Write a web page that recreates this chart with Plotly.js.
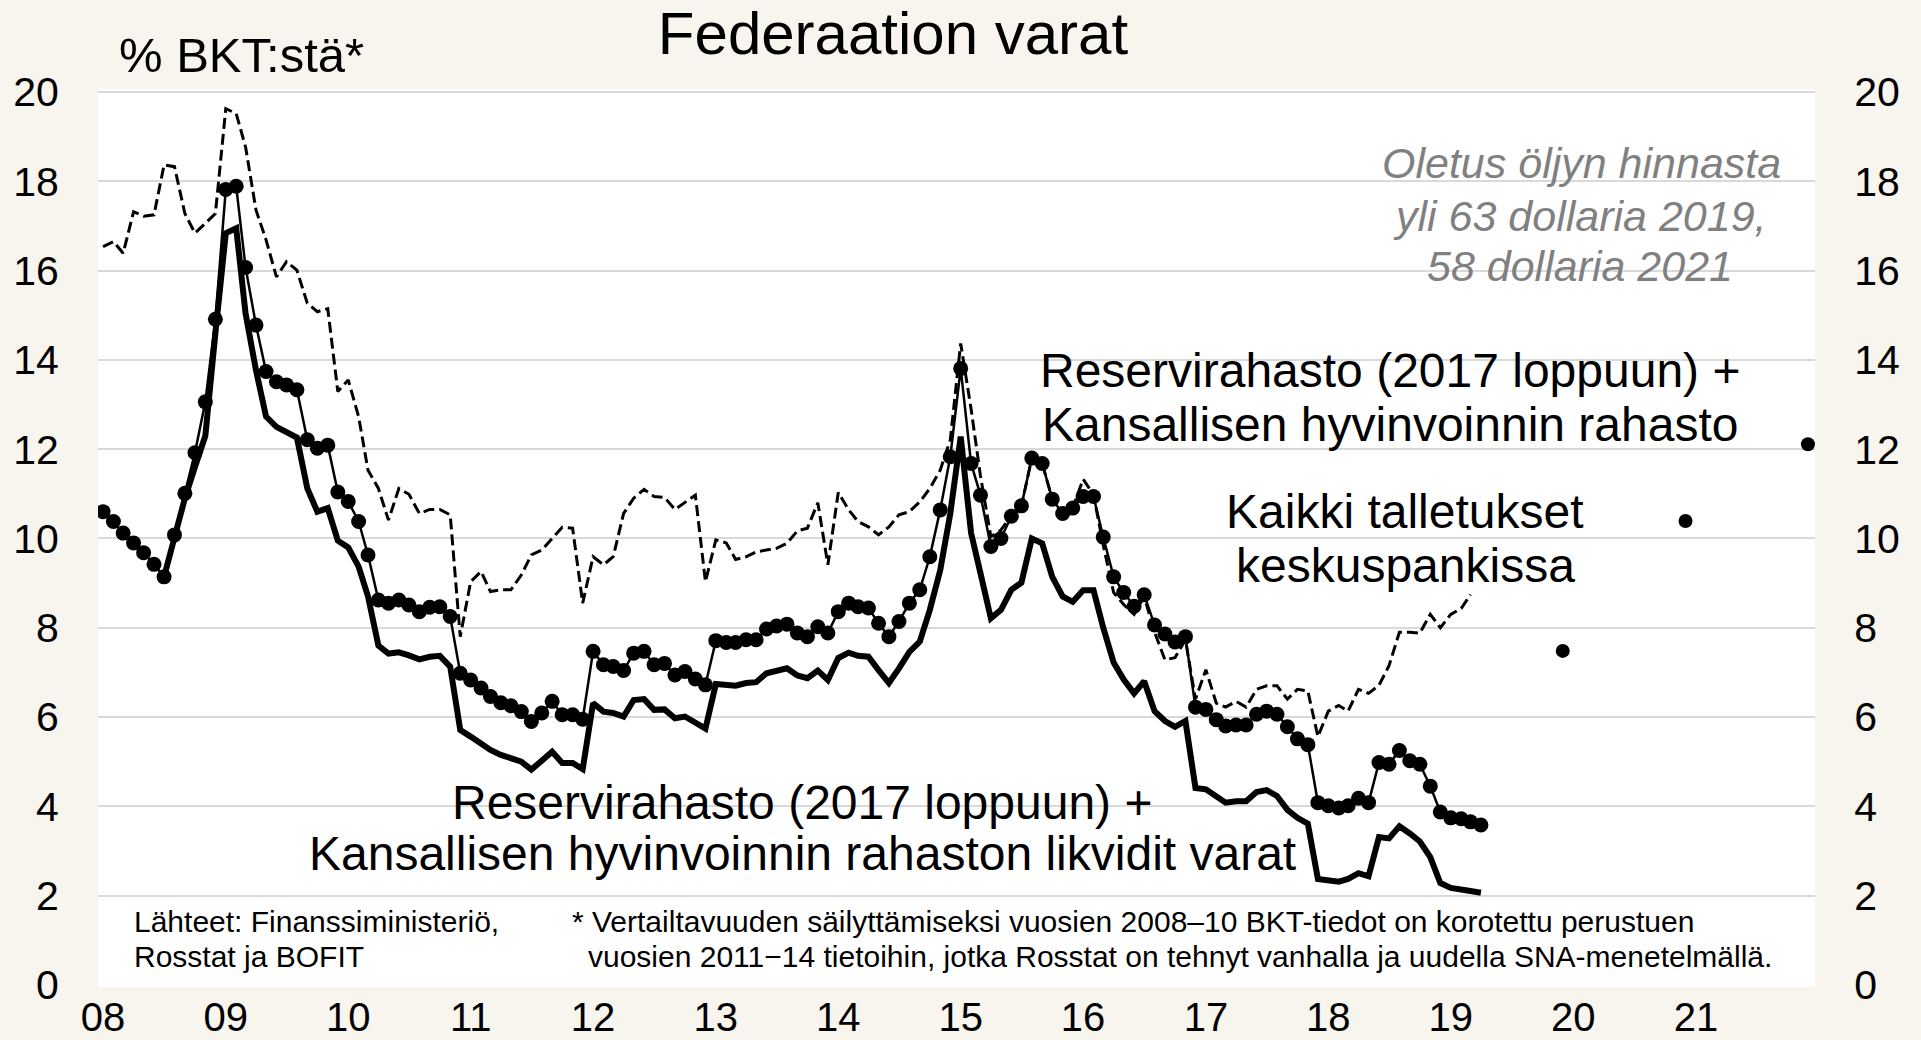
<!DOCTYPE html>
<html>
<head>
<meta charset="utf-8">
<script src="https://cdn.plot.ly/plotly-3.0.1.min.js"></script>
<style>
html,body{margin:0;padding:0;background:#f8f4ee;}
#chart{width:1921px;height:1040px;}
</style>
</head>
<body>
<div id="chart"></div>
<script>
// ---- DATA (monthly, starting January 2008) ----
const startYear = 2008;

// Kaikki talletukset keskuspankissa (dashed), Jan 2008 .. Mar 2019
const depositsAll = [
 16.54,16.65,16.39,17.32,17.22,17.25,18.37,18.33,17.28,16.84,17.06,17.28,
 19.63,19.52,18.77,17.36,16.69,15.86,16.20,16.01,15.27,15.08,15.15,13.29,
 13.55,12.73,11.53,11.12,10.41,11.12,10.99,10.56,10.65,10.65,10.53,7.80,
 9.03,9.26,8.81,8.85,8.85,9.18,9.63,9.74,10.00,10.25,10.23,8.55,
 9.59,9.41,9.59,10.56,10.90,11.10,10.94,10.92,10.65,10.80,10.97,9.03,
 9.97,9.90,9.53,9.59,9.70,9.74,9.78,9.89,10.17,10.23,10.80,9.41,
 11.03,10.64,10.38,10.26,10.08,10.26,10.53,10.60,10.82,11.12,11.53,12.21,
 14.37,12.90,11.40,10.04,10.19,10.50,10.73,11.80,11.68,10.88,10.56,10.68,
 11.33,10.98,9.85,8.79,8.52,8.30,8.70,7.90,7.28,7.33,7.73,6.40,
 7.06,6.31,6.22,6.35,6.22,6.62,6.70,6.70,6.40,6.62,6.58,5.56,
 6.13,6.26,6.13,6.62,6.53,6.71,7.15,7.90,7.90,7.88,8.30,8.00,
 8.30,8.43,8.74
];

// Reservirahasto + Kansallisen hyvinvoinnin rahasto (dots), Jan 2008 .. Apr 2019
const fundsTotal = [
 10.60,10.38,10.12,9.90,9.68,9.42,9.14,10.08,11.01,11.92,13.06,14.91,
 17.82,17.89,16.07,14.78,13.74,13.51,13.44,13.33,12.21,12.02,12.09,11.04,
 10.83,10.38,9.63,8.62,8.55,8.62,8.51,8.36,8.46,8.47,8.25,6.98,
 6.83,6.65,6.46,6.32,6.25,6.12,5.90,6.09,6.35,6.05,6.05,5.95,
 7.47,7.17,7.13,7.04,7.43,7.47,7.17,7.20,6.94,7.02,6.85,6.72,
 7.71,7.67,7.67,7.73,7.73,7.97,8.04,8.08,7.88,7.80,8.02,7.88,
 8.36,8.55,8.47,8.44,8.10,7.80,8.14,8.55,8.85,9.59,10.64,11.83,
 13.81,11.68,10.97,9.82,10.00,10.50,10.73,11.80,11.68,10.88,10.56,10.68,
 10.94,10.94,10.03,9.14,8.79,8.48,8.74,8.06,7.86,7.68,7.80,6.22,
 6.17,5.94,5.80,5.82,5.82,6.06,6.13,6.06,5.78,5.51,5.38,4.08,
 4.01,3.96,4.01,4.18,4.08,4.98,4.94,5.25,5.02,4.94,4.45,3.87,
 3.74,3.72,3.65,3.58
];

// Likvidit varat (thick line), Jan 2008 .. Apr 2019 (null before Jul 2008)
const fundsLiquid = [
 null,null,null,null,null,null,9.14,10.08,10.90,11.60,12.30,14.60,
 16.84,16.95,15.04,13.77,12.73,12.50,12.39,12.26,11.12,10.60,10.68,9.95,
 9.80,9.37,8.70,7.60,7.42,7.45,7.38,7.29,7.35,7.37,7.13,5.71,
 5.56,5.41,5.26,5.15,5.07,5.00,4.82,5.00,5.22,4.97,4.97,4.83,
 6.31,6.12,6.09,6.01,6.38,6.40,6.16,6.17,5.97,6.01,5.86,5.74,
 6.74,6.72,6.70,6.76,6.78,6.98,7.03,7.09,6.93,6.87,7.04,6.83,
 7.32,7.44,7.37,7.35,7.05,6.76,7.09,7.46,7.69,8.40,9.29,10.56,
 12.28,10.12,9.22,8.21,8.40,8.85,9.01,10.00,9.89,9.14,8.70,8.58,
 8.84,8.84,8.00,7.22,6.84,6.53,6.80,6.13,5.91,5.78,5.91,4.41,
 4.38,4.23,4.08,4.11,4.11,4.32,4.36,4.23,3.92,3.74,3.61,2.37,
 2.34,2.31,2.37,2.50,2.43,3.31,3.28,3.55,3.39,3.21,2.86,2.28,
 2.17,2.15,2.10,2.06
];

// Ennuste (year-end), forecast dots
const forecastDates = ['2019-12-01','2020-12-01','2021-12-01'];
const forecastValues = [7.48, 10.39, 12.11];

// Axis ticks
const yearTicks = ['2008','2009','2010','2011','2012','2013','2014','2015','2016','2017','2018','2019','2020','2021'];
const yearLabels = ['08','09','10','11','12','13','14','15','16','17','18','19','20','21'];
const yTicks = [0,2,4,6,8,10,12,14,16,18,20];

// ---- helpers ----
function monthDates(n){
  const out=[];
  for(let i=0;i<n;i++){
    const y=startYear+Math.floor(i/12), m=(i%12)+1;
    out.push(y+'-'+(m<10?'0':'')+m+'-01');
  }
  return out;
}

const FONT='Liberation Sans, Arial, sans-serif';

const traces=[
 {x:monthDates(depositsAll.length), y:depositsAll, type:'scatter', mode:'lines',
  line:{color:'#000', width:3, dash:'11px,5px'}, hoverinfo:'skip'},
 {x:monthDates(fundsLiquid.length), y:fundsLiquid, type:'scatter', mode:'lines',
  line:{color:'#000', width:6}, connectgaps:false, hoverinfo:'skip'},
 {x:monthDates(fundsTotal.length), y:fundsTotal, type:'scatter', mode:'lines+markers',
  line:{color:'#000', width:2.5}, marker:{color:'#000', size:15}, hoverinfo:'skip'},
 {x:forecastDates, y:forecastValues, type:'scatter', mode:'markers', yaxis:'y2',
  marker:{color:'#000', size:14}, cliponaxis:false, hoverinfo:'skip'}
];

// plot-area pixel geometry helpers for annotation placement
const L=98, R=1815, T=89, B=987;
const px=(x)=>(x-L)/(R-L);
const py=(y)=>(B-y)/(B-T);

function ann(text,x,y,size,opts){
  return Object.assign({text:text, xref:'paper', yref:'paper', x:px(x), y:py(y),
    xanchor:'center', yanchor:'middle', showarrow:false,
    font:{family:FONT, size:size, color:'#000'}}, opts||{});
}

const grayItalic={font:{family:FONT, size:43, color:'#808080', style:'italic'}};

const annotations=[
 ann('% BKT:stä*',241,55,49),
 ann('Reservirahasto (2017 loppuun) +',1390,370,48),
 ann('Kansallisen hyvinvoinnin rahasto',1390,424,48),
 ann('Kaikki talletukset',1405,512,48),
 ann('keskuspankissa',1405,565,48),
 ann('Reservirahasto (2017 loppuun) +',802,802,48),
 ann('Kansallisen hyvinvoinnin rahaston likvidit varat',802,853,48),
 ann('Oletus öljyn hinnasta',1581,163,43,grayItalic),
 ann('yli 63 dollaria 2019,',1580,216,43,grayItalic),
 ann('58 dollaria 2021',1580,266,43,grayItalic),
 ann('Lähteet: Finanssiministeriö,',132,921,30,{xanchor:'left'}),
 ann('Rosstat ja BOFIT',132,956,30,{xanchor:'left'}),
 ann('* Vertailtavuuden säilyttämiseksi vuosien 2008–10 BKT-tiedot on korotettu perustuen',570,921,30,{xanchor:'left'}),
 ann('vuosien 2011−14 tietoihin, jotka Rosstat on tehnyt vanhalla ja uudella SNA-menetelmällä.',586,956,30,{xanchor:'left'})
];

const yCommon={range:[-0.05,20.07], tickvals:yTicks, ticktext:yTicks.map(String),
  zeroline:false, showline:false, ticks:'outside', ticklen:30, tickcolor:'rgba(0,0,0,0)',
  tickfont:{family:FONT, size:41, color:'#000'}, fixedrange:true};

const layout={
 width:1921, height:1040,
 paper_bgcolor:'#f8f4ee', plot_bgcolor:'#ffffff',
 margin:{l:L, r:1921-R, t:T, b:1040-B, pad:0},
 showlegend:false,
 font:{family:FONT, color:'#000'},
 title:{text:'Federaation varat', font:{family:FONT, size:60, color:'#000'},
   xref:'container', yref:'container', x:893/1921, xanchor:'center', y:1-33/1040, yanchor:'middle'},
 xaxis:{type:'date', range:['2007-12-17','2021-12-22'],
   tickvals:yearTicks.map(y=>y+'-01-01'), ticktext:yearLabels,
   tickfont:{family:FONT, size:40, color:'#000'},
   showgrid:false, zeroline:false, showline:false,
   ticks:'', ticklabelstandoff:3, fixedrange:true},
 yaxis:Object.assign({}, yCommon, {showgrid:true, gridcolor:'#d9d9d9', gridwidth:2, side:'left'}),
 yaxis2:Object.assign({}, yCommon, {overlaying:'y', side:'right', showgrid:false}),
 shapes:[{type:'rect', xref:'paper', yref:'y', x0:0, x1:1, y0:-0.06, y1:0.05,
   fillcolor:'#ffffff', line:{width:0}, layer:'above'}],
 annotations:annotations
};

Plotly.newPlot('chart', traces, layout, {staticPlot:true, displayModeBar:false});
</script>
</body>
</html>
